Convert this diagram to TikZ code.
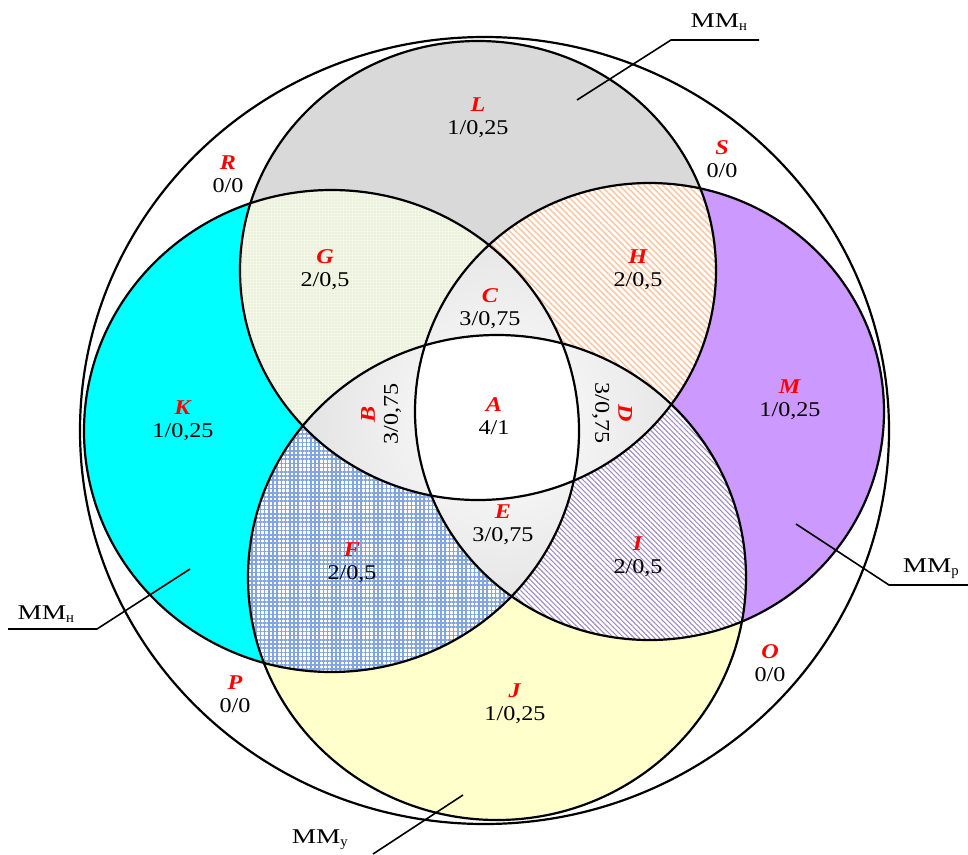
\documentclass[tikz,border=0pt]{standalone}
\usepackage{fontspec}
\setmainfont{Liberation Serif}
\usetikzlibrary{patterns.meta}
\definecolor{colL}{RGB}{217,217,217}
\definecolor{colK}{RGB}{0,255,255}
\definecolor{colM}{RGB}{204,153,255}
\definecolor{colJ}{RGB}{255,255,204}
\definecolor{colGbg}{RGB}{244,246,232}
\definecolor{colGdot}{RGB}{205,222,172}
\definecolor{colH}{RGB}{250,200,165}
\definecolor{colF}{RGB}{130,165,225}
\definecolor{colI}{RGB}{160,142,195}
\definecolor{colShade}{RGB}{200,200,200}
\newcommand\VennO{(484.5,430.5) ellipse [x radius=404.5pt, y radius=393.5pt]}
\newcommand\VennT{(478,270.5) ellipse [x radius=238pt, y radius=229.5pt]}
\newcommand\VennL{(331.5,431) ellipse [x radius=247.5pt, y radius=241pt]}
\newcommand\VennR{(649.5,411.5) ellipse [x radius=234.5pt, y radius=228.5pt]}
\newcommand\VennB{(497,577.5) ellipse [x radius=249pt, y radius=242.5pt]}
\newcommand\rl[1]{\textcolor{red}{\textbf{\textit{#1}}}}
\newcommand\sx[1]{\scalebox{1.15}[1]{#1}}
\newcommand\MMlab[1]{\scalebox{1.3}[1]{ММ}\textsubscript{#1}}
\begin{document}
\begin{tikzpicture}[x=1pt,y=-1pt,
  lab/.style={align=center, font=\fontsize{21}{23}\selectfont, inner sep=0pt},
  mmlab/.style={font=\fontsize{21}{23}\selectfont, inner sep=0pt},
  outline/.style={draw=black, line width=2.2pt},
  leader/.style={draw=black, line width=1.6pt}]
\useasboundingbox (0,0) rectangle (968,854);
\fill[white] (0,0) rectangle (968,854);
\fill[white] \VennO;
% single regions
\fill[colL] \VennT;
\fill[colK] \VennL;
\fill[colM] \VennR;
\fill[colJ] \VennB;
% G = T and Left
\begin{scope}
  \clip \VennT;
  \fill[colGbg] \VennL;
  \fill[pattern={Dots[distance=3pt, radius=0.7pt]}, pattern color=colGdot] \VennL;
\end{scope}
% H = T and Right
\begin{scope}
  \clip \VennT;
  \fill[white] \VennR;
  \fill[pattern={Lines[angle=-45, distance=4.4pt, line width=1.6pt]}, pattern color=colH] \VennR;
\end{scope}
% F = Bottom and Left
\begin{scope}
  \clip \VennB;
  \fill[white] \VennL;
  \fill[pattern={Hatch[angle=0, distance=4.2pt, line width=1.6pt]}, pattern color=colF] \VennL;
\end{scope}
% I = Bottom and Right
\begin{scope}
  \clip \VennB;
  \fill[white] \VennR;
  \fill[pattern={Lines[angle=-45, distance=3.6pt, line width=1.1pt]}, pattern color=colI] \VennR;
\end{scope}
% three-fold regions: shaded
\begin{scope}
  \clip \VennT;
  \clip \VennB;
  \shade[inner color=white, outer color=colShade] (500,418) circle (390pt);
\end{scope}
\begin{scope}
  \clip \VennL;
  \clip \VennR;
  \shade[inner color=white, outer color=colShade] (500,418) circle (390pt);
\end{scope}
% A = all four
\begin{scope}
  \clip \VennT;
  \clip \VennB;
  \clip \VennL;
  \fill[white] \VennR;
\end{scope}
% outlines
\draw[outline] \VennO;
\draw[outline] \VennT;
\draw[outline] \VennL;
\draw[outline] \VennR;
\draw[outline] \VennB;
% region labels
\node[lab] (nL) at (478,118) {\sx{\rl{L}}\\\sx{1/0,25}};
\node[lab] (nR) at (228,174) {\sx{\rl{R}}\\\sx{0/0}};
\node[lab] (nS) at (722,159) {\sx{\rl{S}}\\\sx{0/0}};
\node[lab] (nG) at (325,270) {\sx{\rl{G}}\\\sx{2/0,5}};
\node[lab] (nH) at (638,270) {\sx{\rl{H}}\\\sx{2/0,5}};
\node[lab] (nC) at (490,309) {\sx{\rl{C}}\\\sx{3/0,75}};
\node[lab] (nK) at (183,421) {\sx{\rl{K}}\\\sx{1/0,25}};
\node[lab] (nA) at (494,416) {\sx{\rl{A}}\\\sx{4/1}};
\node[lab] (nM) at (790,400) {\sx{\rl{M}}\\\sx{1/0,25}};
\node[lab, rotate=90] (nB) at (381,414) {\sx{\rl{B}}\\\sx{3/0,75}};
\node[lab, rotate=-90] (nD) at (612,413) {\sx{\rl{D}}\\\sx{3/0,75}};
\node[lab] (nE) at (503,525) {\sx{\rl{E}}\\\sx{3/0,75}};
\node[lab] (nF) at (352,563) {\sx{\rl{F}}\\\sx{2/0,5}};
\node[lab] (nI) at (638,557) {\sx{\rl{I}}\\\sx{2/0,5}};
\node[lab] (nP) at (235,694) {\sx{\rl{P}}\\\sx{0/0}};
\node[lab] (nO) at (770,663) {\sx{\rl{O}}\\\sx{0/0}};
\node[lab] (nJ) at (515,704) {\sx{\rl{J}}\\\sx{1/0,25}};
% callouts
\node[mmlab] (mmT) at (719,22) {\MMlab{н}};
\coordinate (tA) at (577,100);
\coordinate (tB) at (671,40);
\coordinate (tC) at (759,40);
\draw[leader] (tA) -- (tB) -- (tC);
\node[mmlab] (mmL) at (46,614) {\MMlab{н}};
\coordinate (lA) at (190,569);
\coordinate (lB) at (97,629);
\coordinate (lC) at (8,629);
\draw[leader] (lA) -- (lB) -- (lC);
\node[mmlab] (mmR) at (931,569) {\MMlab{р}};
\coordinate (rA) at (796,524);
\coordinate (rB) at (889,585);
\coordinate (rC) at (968,585);
\draw[leader] (rA) -- (rB) -- (rC);
\node[mmlab] (mmB) at (320,840) {\MMlab{у}};
\coordinate (bA) at (463,795);
\coordinate (bB) at (373,854);
\draw[leader] (bA) -- (bB);
\end{tikzpicture}
\end{document}
